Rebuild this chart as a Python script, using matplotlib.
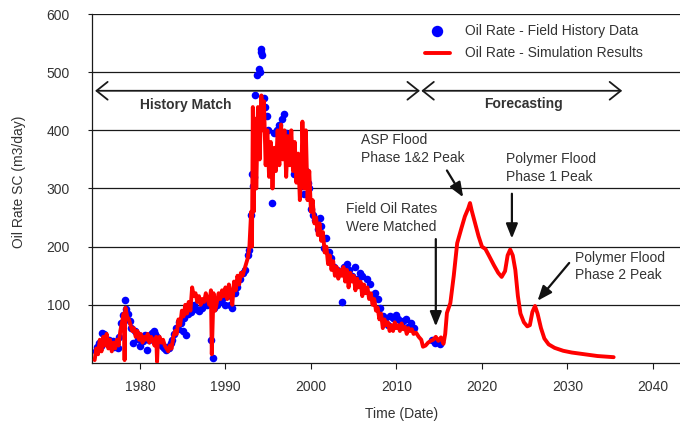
import matplotlib
matplotlib.use("Agg")
import matplotlib.pyplot as plt

plt.rcParams['font.family'] = ['Liberation Sans', 'DejaVu Sans']
plt.rcParams['font.size'] = 10

# ---------------- data ----------------
field_years = [1974.8, 1975.0, 1975.2, 1975.4, 1975.6, 1975.8, 1976.0, 1976.2, 1976.4, 1976.6,
               1976.8, 1977.0, 1977.2, 1977.4, 1977.6, 1977.8, 1978.0, 1978.2, 1978.4, 1978.6,
               1978.8, 1979.0, 1979.2, 1979.4, 1979.6, 1979.8, 1980.0, 1980.2, 1980.4, 1980.6,
               1980.8, 1981.0, 1981.2, 1981.4, 1981.6, 1981.8, 1982.0, 1982.2, 1982.4, 1982.6,
               1982.8, 1983.0, 1983.2, 1983.4, 1983.6, 1983.8, 1984.0, 1984.2, 1984.4, 1984.6,
               1984.8, 1985.0, 1985.2, 1985.4, 1985.6, 1985.8, 1986.0, 1986.3, 1986.6, 1986.9,
               1987.2, 1987.5, 1987.8, 1988.1, 1988.3, 1988.5, 1988.7, 1989.0, 1989.3, 1989.6,
               1989.9, 1990.2, 1990.5, 1990.8, 1991.1, 1991.4, 1991.7, 1992.0, 1992.3, 1992.6,
               1992.8, 1993.0, 1993.1, 1993.2, 1993.3, 1993.5, 1993.7, 1993.9, 1994.0, 1994.1,
               1994.2, 1994.3, 1994.5, 1994.6, 1994.8, 1995.0, 1995.2, 1995.4, 1995.7, 1996.0,
               1996.3, 1996.6, 1996.8, 1997.1, 1997.4, 1997.7, 1998.0, 1998.3, 1998.6, 1998.9,
               1999.2, 1999.4, 1999.6, 1999.8, 2000.0, 2000.2, 2000.5, 2000.8, 2001.0, 2001.2,
               2001.5, 2001.8, 2002.1, 2002.4, 2002.7, 2003.0, 2003.3, 2003.6, 2003.9, 2004.2,
               2004.5, 2004.8, 2005.1, 2005.4, 2005.7, 2006.0, 2006.3, 2006.6, 2006.9, 2007.2,
               2007.5, 2007.8, 2008.1, 2008.4, 2008.7, 2009.0, 2009.3, 2009.6, 2009.9, 2010.2,
               2010.5, 2010.8, 2011.1, 2011.4, 2011.7, 2012.0, 2014.2, 2014.5, 2014.8, 2015.1]
field_rates = [20, 28, 35, 30, 52, 50, 42, 35, 40, 30,
               38, 28, 35, 25, 45, 68, 82, 108, 92, 85,
               72, 60, 35, 55, 50, 42, 30, 45, 38, 48,
               22, 40, 48, 52, 55, 50, 45, 38, 35, 30,
               25, 22, 28, 25, 35, 40, 50, 60, 58, 70,
               68, 55, 78, 48, 85, 95, 88, 100, 92, 90,
               95, 105, 100, 110, 40, 8, 95, 100, 105, 110,
               100, 115, 100, 95, 120, 130, 145, 155, 160, 185,
               195, 255, 325, 305, 320, 460, 495, 505, 500, 540,
               535, 530, 455, 440, 425, 400, 360, 275, 395, 400,
               410, 420, 428, 395, 380, 350, 325, 340, 350, 305,
               290, 330, 310, 300, 265, 255, 245, 230, 250, 235,
               198, 215, 190, 180, 165, 160, 155, 105, 165, 170,
               160, 150, 165, 145, 155, 150, 125, 145, 135, 115,
               120, 110, 95, 80, 75, 65, 80, 78, 82, 75,
               70, 72, 75, 62, 68, 60, 40, 35, 38, 33]

sim_years = [1974.7, 1974.9, 1975.1, 1975.3, 1975.5, 1975.7, 1975.9, 1976.1, 1976.3, 1976.5,
             1976.7, 1976.9, 1977.1, 1977.3, 1977.5, 1977.7, 1977.9, 1978.1, 1978.2, 1978.3,
             1978.5, 1978.7, 1978.9, 1979.1, 1979.3, 1979.5, 1979.7, 1979.9, 1980.1, 1980.3,
             1980.5, 1980.7, 1980.9, 1981.1, 1981.3, 1981.5, 1981.7, 1981.9, 1982.0, 1982.1,
             1982.3, 1982.5, 1982.7, 1982.9, 1983.1, 1983.3, 1983.5, 1983.7, 1983.9, 1984.1,
             1984.3, 1984.5, 1984.7, 1984.9, 1985.1, 1985.3, 1985.5, 1985.7, 1985.9, 1986.1,
             1986.3, 1986.5, 1986.7, 1986.9, 1987.1, 1987.3, 1987.5, 1987.7, 1987.9, 1988.1,
             1988.3, 1988.4, 1988.6, 1988.8, 1989.0, 1989.2, 1989.4, 1989.6, 1989.8, 1990.0,
             1990.2, 1990.4, 1990.6, 1990.8, 1991.0, 1991.2, 1991.4, 1991.6, 1991.8, 1992.0,
             1992.2, 1992.4, 1992.6, 1992.8, 1993.0, 1993.1, 1993.2, 1993.3, 1993.5, 1993.6,
             1993.8, 1994.0, 1994.2, 1994.3, 1994.5, 1994.7, 1994.9, 1995.1, 1995.3, 1995.5,
             1995.7, 1995.9, 1996.1, 1996.3, 1996.5, 1996.7, 1996.9, 1997.1, 1997.3, 1997.5,
             1997.7, 1997.9, 1998.1, 1998.3, 1998.5, 1998.7, 1998.9, 1999.0, 1999.2, 1999.4,
             1999.6, 1999.8, 2000.0, 2000.2, 2000.4, 2000.6, 2000.8, 2001.0, 2001.2, 2001.4,
             2001.6, 2001.8, 2002.0, 2002.2, 2002.4, 2002.6, 2002.8, 2003.0, 2003.2, 2003.4,
             2003.6, 2003.8, 2004.0, 2004.2, 2004.4, 2004.6, 2004.8, 2005.0, 2005.2, 2005.4,
             2005.6, 2005.8, 2006.0, 2006.2, 2006.4, 2006.6, 2006.8, 2007.0, 2007.2, 2007.4,
             2007.6, 2007.8, 2008.0, 2008.2, 2008.4, 2008.6, 2008.8, 2009.0, 2009.2, 2009.4,
             2009.6, 2009.8, 2010.0, 2010.2, 2010.4, 2010.6, 2010.8, 2011.0, 2011.2, 2011.4,
             2011.6, 2011.8, 2012.0, 2012.3, 2012.6, 2012.9, 2013.1, 2013.4, 2013.7, 2014.0,
             2014.3, 2014.6, 2014.9, 2015.2, 2015.5, 2015.7, 2015.9, 2016.3, 2016.7, 2017.1,
             2017.6, 2018.0, 2018.4, 2018.6, 2018.8, 2019.2, 2019.6, 2020.0, 2020.4, 2020.8,
             2021.4, 2021.9, 2022.3, 2022.7, 2023.0, 2023.3, 2023.6, 2023.9, 2024.2, 2024.5,
             2024.9, 2025.3, 2025.6, 2025.9, 2026.2, 2026.5, 2026.9, 2027.3, 2027.8, 2028.5,
             2029.5, 2030.5, 2031.5, 2032.5, 2033.5, 2034.5, 2035.4]
sim_rates = [5, 25, 15, 40, 20, 45, 30, 50, 25, 40,
             20, 35, 25, 40, 30, 55, 70, 85, 5, 95,
             80, 75, 65, 55, 60, 45, 55, 40, 50, 35,
             45, 40, 50, 35, 45, 40, 30, 45, 2, 40,
             45, 35, 40, 30, 25, 20, 30, 25, 45, 55,
             50, 75, 65, 90, 80, 100, 85, 105, 90, 130,
             115, 120, 105, 115, 100, 110, 105, 120, 110, 100,
             125, 15, 120, 90, 105, 120, 110, 125, 115, 130,
             110, 135, 120, 100, 140, 125, 150, 135, 155, 150,
             160, 170, 180, 200, 260, 200, 440, 260, 420, 300,
             440, 350, 460, 400, 450, 340, 400, 320, 380, 300,
             370, 330, 400, 340, 410, 350, 400, 320, 390, 340,
             400, 330, 380, 310, 360, 280, 340, 415, 300, 400,
             280, 330, 260, 280, 240, 250, 220, 240, 210, 225,
             190, 200, 170, 185, 160, 175, 150, 165, 145, 160,
             150, 165, 140, 160, 130, 155, 140, 150, 125, 145,
             130, 140, 115, 135, 120, 130, 110, 120, 100, 110,
             90, 95, 75, 85, 60, 75, 65, 70, 55, 65,
             55, 70, 60, 65, 55, 68, 58, 62, 50, 60,
             55, 58, 50, 52, 45, 40, 28, 30, 35, 38,
             40, 45, 38, 44, 33, 50, 86, 103, 150, 206,
             232, 252, 266, 275, 262, 240, 218, 200, 196, 185,
             168, 155, 148, 158, 185, 195, 185, 160, 115, 85,
             70, 63, 65, 88, 98, 85, 60, 42, 32, 26,
             21, 18, 16, 14, 12, 11, 10]

x_ticks = [1980, 1990, 2000, 2010, 2020, 2030, 2040]
y_ticks = [100, 200, 300, 400, 500, 600]

legend_labels = ["Oil Rate - Field History Data", "Oil Rate - Simulation Results"]
phase_labels = ["History Match", "Forecasting"]
note_texts = ["ASP Flood\nPhase 1&2 Peak", "Polymer Flood\nPhase 1 Peak",
              "Field Oil Rates\nWere Matched", "Polymer Flood\nPhase 2 Peak"]

# ---------------- figure ----------------
fig = plt.figure(figsize=(6.8, 4.23), dpi=100)
ax = fig.add_axes([92/680, 1 - 363/423, 588/680, 349/423])

text_col = '#333333'

ax.scatter(field_years, field_rates, s=30, color='#0000ff', zorder=3,
           label=legend_labels[0], linewidths=0)
ax.plot(sim_years, sim_rates, color='#ff0000', lw=2.8, zorder=4,
        label=legend_labels[1], solid_joinstyle='round', solid_capstyle='round')

ax.set_xlim(1974.39, 2043.16)
ax.set_ylim(0, 600)
ax.set_xticks(x_ticks)
ax.set_yticks(y_ticks)
ax.yaxis.grid(True, color='#1a1a1a', lw=0.9, zorder=0)
ax.set_axisbelow(True)
for s in ['top', 'right']:
    ax.spines[s].set_visible(False)
for s in ['left', 'bottom']:
    ax.spines[s].set_color('#1a1a1a')
    ax.spines[s].set_linewidth(0.9)
ax.tick_params(axis='y', length=3, pad=13, colors='#1a1a1a', labelcolor=text_col, labelsize=10)
ax.tick_params(axis='x', length=4, pad=8, colors='#1a1a1a', labelcolor=text_col, labelsize=10)

ax.set_ylabel("Oil Rate SC (m3/day)", color=text_col, fontsize=10)
ax.yaxis.set_label_coords(-0.112, 0.52)
ax.set_xlabel("Time (Date)", color=text_col, fontsize=10)
ax.xaxis.set_label_coords(0.527, -0.126)

leg = ax.legend(loc='upper left', bbox_to_anchor=(0.566, 0.971), frameon=False,
                borderpad=0, borderaxespad=0, handlelength=1.8, handletextpad=1.1,
                labelspacing=0.6, scatterpoints=1, markerscale=1.5, fontsize=10)
for t in leg.get_texts():
    t.set_color(text_col)

# phase arrows
arrow_y = 468
ax.annotate('', xy=(1974.75, arrow_y), xytext=(2012.75, arrow_y),
            arrowprops=dict(arrowstyle='<->,head_length=0.4,head_width=0.32',
                            mutation_scale=20, color='#1a1a1a', lw=1.3,
                            shrinkA=0, shrinkB=0))
ax.annotate('', xy=(2012.9, arrow_y), xytext=(2036.4, arrow_y),
            arrowprops=dict(arrowstyle='<->,head_length=0.4,head_width=0.32',
                            mutation_scale=20, color='#1a1a1a', lw=1.3,
                            shrinkA=0, shrinkB=0))
ax.text(1985.3, 444, phase_labels[0], ha='center', va='center',
        fontweight='bold', color=text_col, fontsize=10)
ax.text(2024.8, 446, phase_labels[1], ha='center', va='center',
        fontweight='bold', color=text_col, fontsize=10)

# notes with arrows
ap = dict(arrowstyle='-|>,head_length=0.55,head_width=0.22', mutation_scale=16,
          color='#111111', lw=1.6, shrinkA=0, shrinkB=0)
ax.text(2005.85, 368, note_texts[0], ha='left', va='center', color=text_col,
        fontsize=10, linespacing=1.35)
ax.annotate('', xy=(2017.8, 285), xytext=(2015.9, 331), arrowprops=ap)

ax.text(2022.8, 335, note_texts[1], ha='left', va='center', color=text_col,
        fontsize=10, linespacing=1.35)
ax.annotate('', xy=(2023.5, 214), xytext=(2023.5, 291), arrowprops=ap)

ax.text(2004.1, 250, note_texts[2], ha='left', va='center', color=text_col,
        fontsize=10, linespacing=1.35)
ax.annotate('', xy=(2014.6, 63), xytext=(2014.6, 213), arrowprops=ap)

ax.text(2030.9, 166, note_texts[3], ha='left', va='center', color=text_col,
        fontsize=10, linespacing=1.35)
ax.annotate('', xy=(2026.5, 107), xytext=(2030.2, 172), arrowprops=ap)

fig.savefig('out.png', dpi=100, facecolor='white')
